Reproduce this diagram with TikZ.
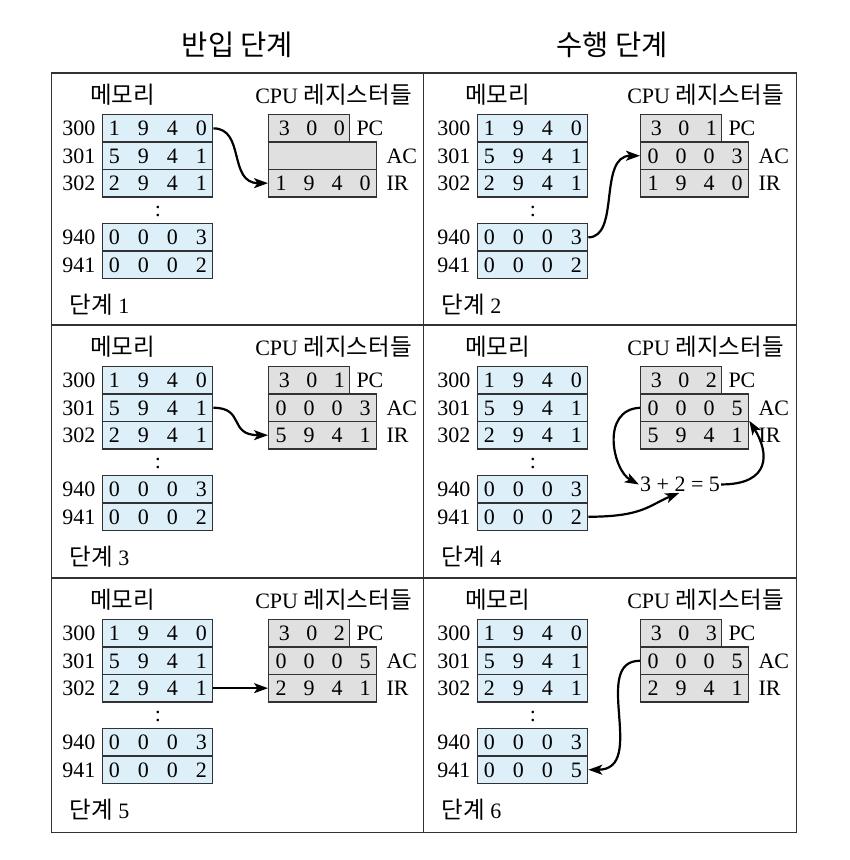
\documentclass[tikz,border=0pt]{standalone}
\usepackage{fontspec}
\setmainfont{Liberation Serif}
\newfontfamily\kr{Noto Sans CJK KR}
\usetikzlibrary{arrows.meta}
\definecolor{memblue}{RGB}{221,239,249}
\definecolor{reggray}{RGB}{224,224,224}
\definecolor{edgecol}{RGB}{50,50,50}

\newcommand\mdig[4]{\hbox to 110pt{\hskip-2.5pt\makebox[29pt]{#1}\makebox[29pt]{#2}\makebox[29pt]{#3}\makebox[29pt]{#4}\hss}}
\newcommand\rdig[4]{\hbox to 107pt{\hskip-2pt\makebox[28pt]{#1}\makebox[28pt]{#2}\makebox[28pt]{#3}\makebox[28pt]{#4}\hss}}
\newcommand\pdig[3]{\hbox to 80pt{\hskip1.5pt\makebox[27.5pt]{#1}\makebox[27.5pt]{#2}\makebox[27.5pt]{#3}\hss}}
\newcommand\krl{\kr\fontsize{23.5}{28}\selectfont}

\tikzset{
  cell/.style={draw=edgecol, line width=1.3pt, inner sep=0pt, anchor=north west,
    minimum height=27.4pt, text height=14.5pt, text depth=0pt},
  mem/.style={cell, fill=memblue, minimum width=110.5pt},
  reg/.style={cell, fill=reggray, minimum width=108pt},
  pcreg/.style={cell, fill=reggray, minimum width=81pt},
  addr/.style={anchor=east, inner sep=0pt, text height=14.5pt, text depth=0pt},
  lab/.style={anchor=west, inner sep=0pt, text height=14.5pt, text depth=0pt},
  frame/.style={draw=edgecol, line width=1.8pt},
  flow/.style={line width=2.2pt, -{Stealth[length=14pt,width=10pt,inset=3.5pt]}},
}

\newcommand\panel[9]{%
\begin{scope}[shift={(#2,#3)}]
  \node[mem] (#1r0) at (#4,41) {\mdig1940};
  \node[mem] (#1r1) at (#4,68.4) {\mdig5941};
  \node[mem] (#1r2) at (#4,95.8) {\mdig2941};
  \node[mem] (#1r3) at (#4,150) {\mdig0003};
  \node[mem] (#1r4) at (#4,177.4) {#8};
  \node[addr] (#1a0) at ([xshift=-6pt]#1r0.west) {300};
  \node[addr] (#1a1) at ([xshift=-6pt]#1r1.west) {301};
  \node[addr] (#1a2) at ([xshift=-6pt]#1r2.west) {302};
  \node[addr] (#1a3) at ([xshift=-6pt]#1r3.west) {940};
  \node[addr] (#1a4) at ([xshift=-6pt]#1r4.west) {941};
  \node[inner sep=0pt] (#1dots) at (#4+56.5,138) {:};
  \node[anchor=base, inner sep=0pt] (#1mt) at (#4+21,30.5) {\krl 메모리};
  \node[anchor=base, inner sep=0pt] (#1ct) at (282,30.5) {CPU {\krl 레지스터들}};
  \node[pcreg] (#1pc) at (216.5,41) {#5};
  \node[reg] (#1ac) at (216.5,68.4) {#6};
  \node[reg] (#1ir) at (216.5,95.8) {#7};
  \node[lab] (#1pcl) at ([xshift=6pt]#1pc.east) {PC};
  \node[lab] (#1acl) at ([xshift=9pt]#1ac.east) {AC};
  \node[lab] (#1irl) at ([xshift=9pt]#1ir.east) {IR};
  \node[anchor=base west, inner sep=0pt] (#1st) at (18,240) {{\krl 단계} #9};
\end{scope}}

\begin{document}
\begin{tikzpicture}[x=1pt, y=-1pt, font=\fontsize{22}{26}\selectfont]
  \useasboundingbox[fill=white] (0,0) rectangle (850,860);

  % titles
  \node[inner sep=0pt] (t1) at (237.5,45) {\fontsize{28.5}{32}\selectfont\kr 반입 단계};
  \node[inner sep=0pt] (t2) at (612,45) {\fontsize{28.5}{32}\selectfont\kr 수행 단계};

  % frame
  \draw[frame] (51.5,73) rectangle (796.5,832.5);
  \draw[frame] (423.5,73) -- (423.5,832.5);
  \draw[frame] (51.5,325) -- (796.5,325);
  \draw[frame] (51.5,578) -- (796.5,578);

  % panels
  \panel{p1}{51.5}{73}{50}{\pdig300}{\rdig{}{}{}{}}{\rdig1940}{\mdig0002}{1}
  \panel{p2}{423.5}{73}{53}{\pdig301}{\rdig0003}{\rdig1940}{\mdig0002}{2}
  \panel{p3}{51.5}{325}{50}{\pdig301}{\rdig0003}{\rdig5941}{\mdig0002}{3}
  \panel{p4}{423.5}{325}{53}{\pdig302}{\rdig0005}{\rdig5941}{\mdig0002}{4}
  \panel{p5}{51.5}{578}{50}{\pdig302}{\rdig0005}{\rdig2941}{\mdig0002}{5}
  \panel{p6}{423.5}{578}{53}{\pdig303}{\rdig0005}{\rdig2941}{\mdig0005}{6}

  % sum in step 4
  \node[anchor=base, inner sep=1pt, text height=14.5pt, text depth=0pt] (p4sum) at (680,491.7) {3 + 2 = 5};

  % connectors
  \draw[flow] (p1r0.east) .. controls +(32,0) and +(-40,0) .. (p1ir.west);
  \draw[flow] (p2r3.east) .. controls +(32,0) and +(-42,0) .. (p2ac.west);
  \draw[flow] (p3r1.east) .. controls +(32,0) and +(-40,0) .. (p3ir.west);
  \draw[flow] (p4ac.west) .. controls +(-40,2) and +(-26,-14) .. (p4sum.west);
  \draw[flow] (p4sum.east) .. controls +(50,0) and +(20,32) .. (p4ir.north east);
  \draw[flow] (p4r4.east) .. controls +(55,0) and +(-30,12) .. (p4sum.265);
  \draw[flow] (p5r2.east) -- (p5ir.west);
  \draw[flow] (p6ac.west) .. controls +(-50,0) and +(60,0) .. (p6r4.east);
\end{tikzpicture}
\end{document}
